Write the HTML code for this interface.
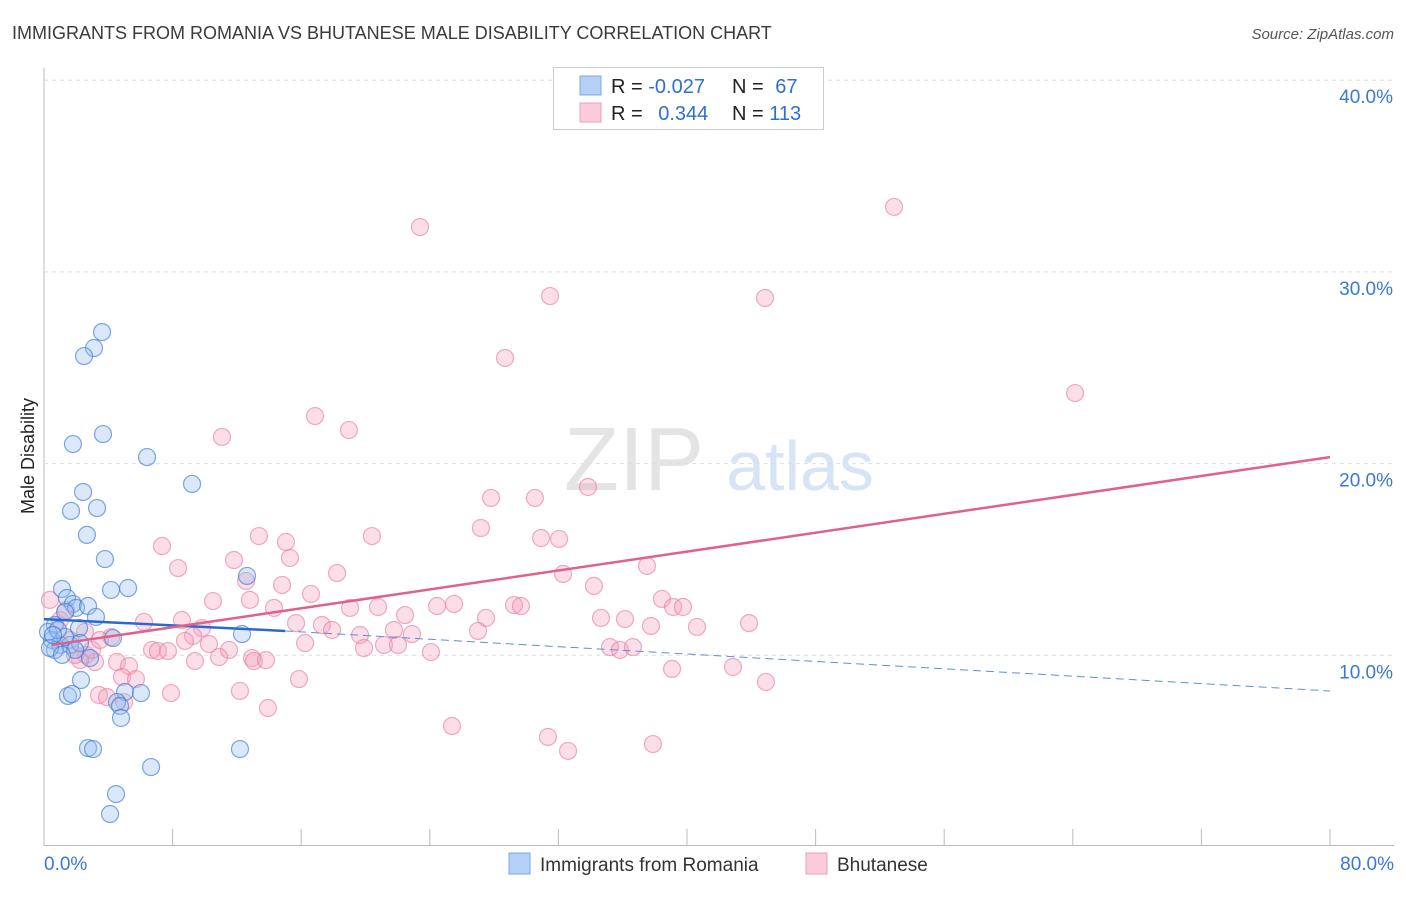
<!DOCTYPE html>
<html><head><meta charset="utf-8"><style>
body{margin:0;background:#fff;font-family:"Liberation Sans",sans-serif}
svg text{font-family:"Liberation Sans",sans-serif}
</style></head><body>
<svg id="chart" width="1406" height="892">
<text x="12" y="39" font-size="18" fill="#3a3a3a">IMMIGRANTS FROM ROMANIA VS BHUTANESE MALE DISABILITY CORRELATION CHART</text>
<text x="1394" y="39" font-size="15" fill="#555" text-anchor="end" font-style="italic">Source: ZipAtlas.com</text>
<text x="634" y="490" font-size="90" fill="#e4e4e4" font-family="Liberation Serif" text-anchor="middle">ZIP</text>
<text x="800" y="490" font-size="70" fill="#d6e4f5" text-anchor="middle">atlas</text>
<text transform="translate(34,456) rotate(-90)" font-size="18" fill="#222" text-anchor="middle">Male Disability</text>
<g id="grid"></g><g id="pts"></g><g id="trend"></g>
<g>
<rect x="553.5" y="67.5" width="270" height="62" fill="#fff" stroke="#ccc"/>
<rect x="580" y="76" width="21" height="19" fill="#b5d0f5" stroke="#7aa7e6"/>
<rect x="580" y="103" width="21" height="19" fill="#fbcbd9" stroke="#ee9fb8"/>
<text x="611" y="93" font-size="20" fill="#222">R = <tspan fill="#2f6fd0">-0.027</tspan></text>
<text x="732" y="93" font-size="20" fill="#222">N = <tspan fill="#2f6fd0" dx="6">67</tspan></text>
<text x="611" y="120" font-size="20" fill="#222">R = <tspan fill="#2f6fd0" dx="10">0.344</tspan></text>
<text x="732" y="120" font-size="20" fill="#222">N = <tspan fill="#2f6fd0">113</tspan></text>
</g>
<g>
<rect x="509" y="853" width="21" height="21" fill="#b5d0f5" stroke="#7aa7e6"/>
<text x="540" y="871" font-size="19" fill="#333">Immigrants from Romania</text>
<rect x="806" y="853" width="21" height="21" fill="#fbcbd9" stroke="#ee9fb8"/>
<text x="837" y="871" font-size="19" fill="#333">Bhutanese</text>
</g>
</svg>
<script>
const xTickVals=[0,8,16,24,32,40,48,56,64,72,80];
const yTickVals=[10,20,30,40];
const blueX=[3.61,3.11,2.49,1.80,3.67,6.41,2.43,9.21,1.68,3.30,2.67,3.79,12.63,1.12,4.17,5.23,1.43,1.80,1.99,2.74,1.31,3.23,2.18,12.32,4.29,0.68,0.50,1.0,1.62,0.68,2.24,2.86,2.30,1.49,1.74,5.04,6.03,4.54,4.73,4.79,2.74,3.05,12.19,6.66,4.48,4.11,0.25,0.37,1.31,0.87,1.93,1.12,0.56];
const blueY=[26.86,26.03,25.61,21.02,21.54,20.34,18.52,18.94,17.53,17.68,16.28,15.02,14.14,13.46,13.41,13.51,12.99,12.68,12.47,12.57,12.26,12.0,11.42,11.11,10.90,11.58,10.80,10.54,10.54,10.28,10.64,9.86,8.71,7.88,7.98,8.09,8.03,7.56,7.36,6.73,5.16,5.11,5.11,4.17,2.76,1.72,11.22,10.38,10.96,11.32,10.28,10.02,11.06];
const pinkX=[52.88,23.39,31.48,44.85,28.68,64.14,16.86,18.97,11.07,27.81,30.54,33.84,27.18,13.37,20.40,30.92,32.04,15.05,7.34,15.30,11.82,8.34,18.23,32.29,37.51,34.21,12.57,14.81,10.51,12.81,16.61,24.45,25.51,29.24,29.67,38.44,39.13,39.75,20.78,19.04,14.31,22.46,8.58,15.68,17.29,6.22,9.83,34.65,36.14,37.76,40.62,43.86,27.50,27.00,4.17,9.27,16.24,17.92,19.66,22.89,21.77,19.91,8.77,10.26,6.72,7.09,7.71,11.51,12.94,21.15,22.02,35.21,35.83,36.64,24.07,4.54,5.29,9.39,10.89,13.06,13.81,2.61,3.17,39.07,42.86,4.85,5.72,15.86,44.91,3.42,3.92,4.98,7.90,12.19,13.93,25.38,31.35,32.60,37.88,2.24,1.93,1.62,2.99,1.0,0.37,1.37,2.55,3.48];
const pinkY=[33.39,32.34,28.74,28.64,25.51,23.68,22.48,21.75,21.39,18.21,18.21,18.78,16.64,16.22,16.22,16.12,16.07,15.91,15.70,15.08,14.97,14.55,14.29,14.24,14.66,13.62,13.88,13.67,12.83,12.89,13.20,12.57,12.68,12.62,12.57,12.94,12.52,12.52,12.52,12.47,12.47,12.10,11.84,11.68,11.58,11.74,11.42,11.95,11.89,11.53,11.48,11.68,11.95,11.27,10.95,11.01,10.64,11.32,11.06,11.11,11.32,10.38,10.75,10.59,10.28,10.22,10.22,10.28,9.86,10.54,10.54,10.43,10.28,10.43,10.17,9.65,9.44,9.70,9.91,9.70,9.75,10.02,9.65,9.29,9.39,8.87,8.76,8.76,8.61,7.93,7.82,7.56,8.03,8.14,7.25,6.31,5.74,5.01,5.37,9.75,10.02,10.80,10.28,11.84,12.89,12.36,11.22,10.80];
const blueTrend=[[0,11.89],[15,11.27],[80,8.14]];
const pinkTrend=[[0.5,10.54],[80,20.34]];
const NS="http://www.w3.org/2000/svg";
const sx=v=>44+v*1286/80, sy=v=>847-v*19.17;
function mk(tag,attrs,parent){const e=document.createElementNS(NS,tag);for(const k in attrs)e.setAttribute(k,attrs[k]);document.getElementById(parent).appendChild(e);return e;}
const g='grid';
let ax=mk('line',{x1:44,y1:68,x2:44,y2:846,stroke:'#bbb'},g);


let bx=mk('line',{x1:44,y1:845.5,x2:1394,y2:845.5,stroke:'#bbb'},g);


yTickVals.forEach(v=>{
 const l=mk('line',{x1:44,x2:1394,y1:sy(v),y2:sy(v),stroke:'#ddd','stroke-dasharray':'4,4'},g);
 
 
 const t=mk('text',{x:1393,y:sy(v)+23,'font-size':19,fill:'#3a78d4','text-anchor':'end'},g);t.textContent=v.toFixed(1)+'%';
 
 
});
xTickVals.forEach(v=>{
 const l=mk('line',{x1:sx(v),x2:sx(v),y1:829,y2:845,stroke:'#bbb'},g);
 
 
});
[[0,'start'],[80,'end']].forEach(([v,a])=>{
 const t=mk('text',{x:a=='start'?sx(v):sx(v)+64,y:870,'font-size':19,fill:'#3a78d4','text-anchor':a},g);t.textContent=v.toFixed(1)+'%';
 
 
});
pinkX.forEach((x,i)=>{
 const c=mk('circle',{cx:sx(x),cy:sy(pinkY[i]),r:8.5,fill:'rgba(244,160,188,0.35)',stroke:'rgba(228,120,156,0.6)','stroke-width':1.2},'pts');
 
 
});
blueX.forEach((x,i)=>{
 const c=mk('circle',{cx:sx(x),cy:sy(blueY[i]),r:8.5,fill:'rgba(150,190,240,0.35)',stroke:'rgba(60,120,210,0.65)','stroke-width':1.2},'pts');
 
 
});
let t1=mk('line',{x1:sx(blueTrend[0][0]),y1:sy(blueTrend[0][1]),x2:sx(blueTrend[1][0]),y2:sy(blueTrend[1][1]),stroke:'#2a6ad0','stroke-width':2.5},'trend');


let t2=mk('line',{x1:sx(blueTrend[1][0]),y1:sy(blueTrend[1][1]),x2:sx(blueTrend[2][0]),y2:sy(blueTrend[2][1]),stroke:'#5a8fdc','stroke-width':1,'stroke-dasharray':'8,5'},'trend');


let t3=mk('line',{x1:sx(pinkTrend[0][0]),y1:sy(pinkTrend[0][1]),x2:sx(pinkTrend[1][0]),y2:sy(pinkTrend[1][1]),stroke:'#e0608e','stroke-width':2.5},'trend');


</script>
</body></html>
